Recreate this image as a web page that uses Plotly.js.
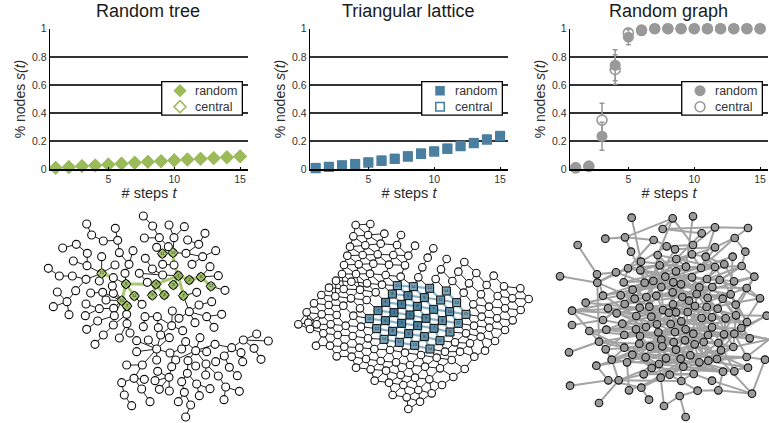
<!DOCTYPE html>
<html><head><meta charset="utf-8">
<script src="https://cdn.plot.ly/plotly-3.0.1.min.js"></script>
<style>html,body{margin:0;padding:0;background:#fff}#c{width:769px;height:423px}</style>
</head><body><div id="c"></div>
<script>
const steps=[1,2,3,4,5,6,7,8,9,10,11,12,13,14,15];
const treeRandom=[0.012,0.018,0.025,0.03,0.036,0.042,0.05,0.056,0.06,0.067,0.072,0.077,0.082,0.088,0.095];
const treeCentral=[0.01,0.015,0.022,0.027,0.033,0.04,0.046,0.052,0.057,0.063,0.069,0.074,0.079,0.085,0.091];
const latticeRandom=[0.012,0.02,0.03,0.04,0.052,0.065,0.078,0.095,0.115,0.13,0.15,0.17,0.19,0.215,0.24];
const latticeCentral=[0.008,0.016,0.026,0.036,0.047,0.06,0.073,0.09,0.11,0.125,0.145,0.165,0.185,0.21,0.235];
const graphRandom=[0.012,0.025,0.235,0.74,0.94,0.985,1,1,1,1,1,1,1,1,1];
const graphRandomErr=[0,0,0.1,0.11,0.055,0.01,0,0,0,0,0,0,0,0,0];
const graphCentral=[0.01,0.02,0.35,0.71,0.97,0.99,1,1,1,1,1,1,1,1,1];
const graphCentralErr=[0,0,0.12,0.105,0.05,0.01,0,0,0,0,0,0,0,0,0];
const yTicks=[0,0.2,0.4,0.6,0.8,1];
const yTickText=['0','0.2','0.4','0.6','0.8','1'];
const xTicks=[5,10,15];
const titles=['Random tree','Triangular lattice','Random graph'];
const seriesNames=['random','central'];

const treeBranches=[
[170,57,185,90,220,108,263,106,268,143,297,178,285,205,288,237],[256,70,263,106],[309,137,297,178],
[98,129,139,118,172,145,171,182,215,205],[130,168,171,182],[215,155,215,205],[255,180,215,205],[215,205,250,218,288,237],
[55,190,88,213,127,213,168,223,215,205],[208,228,215,205],[137,257,168,223],[82,261,111,290],[137,257,111,290],[70,305,111,290],[117,329,111,290],
[182,264,218,262,275,287],[250,265,275,287],[247,243,275,287],[228,285,275,287],[168,297,208,311,251,310,275,287],[166,332,208,311],[203,348,253,332,275,287],[170,373,203,348],
[275,287,291,303,290,328,291,356,300,384],[291,356,268,399],[290,328,250,360,220,390,195,418],[313,273,336,298],[313,273,288,237,275,287],
[288,237,378,238,445,212,478,225,513,216,543,244,585,256],[513,216,540,185],[513,216,565,212],[378,238,403,270],[378,238,367,271],[430,240,445,212],
[445,212,460,272,500,262],[445,212,432,180,429,143,397,146,380,127],[429,143,432,98,417,60],[432,98,463,65],[340,33,368,63,388,98,343,99],[388,98,415,125,397,146],
[429,143,468,145,506,118,525,85],[473,105,506,118],[468,145,518,155,557,137],[518,155,486,178],[445,212,398,210,367,192,346,160],[398,178,432,180],[398,210,328,205],[352,232,328,205],
[460,272,478,320,507,300,545,290],[478,320,530,335,575,328],[530,335,552,367],[478,320,495,353],[478,320,447,340,425,362,427,318],[425,362,382,335,385,368],[345,335,382,335],[340,365,345,335],[425,362,458,377],
[425,362,392,390,380,432],[418,398,380,432],[320,407,380,432],[355,405,380,432],[320,440,380,432],[380,432,337,480,290,480],[380,465,380,432],[380,432,420,444],
[337,480,312,520,275,533,283,570,305,602],[312,520,343,523],[312,520,335,552,360,590],
[420,444,437,465,497,437],[425,485,437,465],[455,432,420,444],[467,410,497,437],[510,398,497,437],[530,440,497,437],
[497,437,555,418,605,428,640,405,680,387],[640,405,715,408],[640,405,672,430,693,463],[605,428,633,443,638,470],[605,428,583,453,557,470],[583,453,598,487,622,512],
[497,437,474,467,497,483],[474,467,472,505,455,530,463,562,445,590],[463,562,482,600,467,636],[472,505,500,537,540,551],[500,537,508,572],
[497,437,528,477,565,513,587,546,628,559],[587,546,582,584],[528,477,527,510],
[417,517,425,485],[417,517,383,499],[417,517,375,527],[417,517,388,553],[417,517,418,558]];
const treeFocusPaths=[[215,205,250,218],[288,237,378,238,445,212,478,225,513,216,543,244],[378,238,403,270],[378,238,367,271],[445,212,430,240],[445,212,460,272],[288,237,275,287,291,303],[288,237,313,273],[429,143,397,146],[445,212,432,180,429,143]];
const treeFocusX=[215,288,275,291,313,378,367,403,430,445,478,513,543,460,429,397];
const treeFocusY=[205,237,287,303,273,238,271,270,240,212,225,216,244,272,143,146];
const treeFocusStep=[15,5,10,7,11,3,9,4,8,1,2,6,12,7,13,11];

const latticeRows=[
[197,60,241,57],
[190,94,234,90,283,86,333,90],
[180,125,226,121,272,116,321,120,375,122,430,130],
[172,152,218,150,263,148,310,150,355,152,413,158,470,162,523,171],
[162,180,206,178,250,176,297,179,345,181,397,187,453,193,505,200,559,204,611,212],
[156,207,198,207,240,206,287,210,332,215,385,217,437,222,487,228,537,235,590,240,642,244,691,250],
[138,227,184,230,231,235,276,239,322,242,370,245,419,250,469,258,521,263,573,268,623,273,667,280,716,282],
[117,248,161,252,210,254,257,262,307,267,354,272,403,278,452,285,500,293,550,298,597,305,645,310,692,315],
[94,270,136,274,183,280,230,285,287,292,335,298,382,304,431,313,479,320,528,328,575,335,621,340,668,346],
[72,295,116,300,160,302,210,310,264,317,312,323,360,330,408,340,457,347,505,355,552,362,598,368,645,375],
[50,322,95,328,140,330,190,332,238,341,286,347,335,355,383,362,432,370,480,381,528,385,572,395,615,408],
[25,358,55,353,80,358,122,358,167,362,213,365,260,371,308,379,356,386,403,395,450,407,495,412,540,415,585,437],
[60,372,100,385,143,390,188,393,234,400,282,403,328,412,374,421,420,432,465,440,510,440,553,455],
[78,422,120,422,163,425,208,428,253,432,300,435,345,443,393,450,440,458,485,465,524,492],
[140,454,185,455,228,462,272,468,318,472,360,480,405,485,450,490,490,516],
[198,488,242,493,288,497,332,510,375,518,418,523,456,540],
[254,527,297,533,340,540,385,555,425,565],
[308,570,350,577,390,590],
[355,612]];
const latticeFocusX=[322,370,419,469,307,354,403,452,500,287,335,382,431,479,528,264,312,360,408,457,505,238,286,335,383,432,480,260,308,356,403,450,282,328,374,420];
const latticeFocusY=[242,245,250,258,267,272,278,285,293,292,298,304,313,320,328,317,323,330,340,347,355,341,347,355,362,370,381,371,379,386,395,407,403,412,421,432];
const latticeFocusStep=[13,14,12,14,8,5,9,11,13,6,3,4,7,10,15,7,2,1,5,8,12,13,6,3,4,7,11,12,8,6,9,12,14,12,13,14];

const graphX=[275,398,459,368,525,624,485,196,255,341,584,113,459,380,405,525,273,616,353,456,578,497,409,303,605,553,525,483,438,359,264,301,228,171,408,60,643,376,456,501,539,582,172,251,314,340,400,423,364,478,517,620,278,189,242,284,319,349,398,427,470,503,548,572,660,137,447,254,587,204,299,328,399,465,500,533,96,230,369,387,408,443,588,680,289,334,485,516,557,189,621,96,247,351,392,424,199,148,288,318,437,516,604,504,355,405,460,552,583,253,300,629,688,177,491,364,435,298,401,464,535,330,367,253,580,408,543,197,87,277,317,451,378,422,215,620,531,505,478,675,261,357,430,335,169,624,549,583,461,311,389,362,205,236,424,516,267,304,473,535,90,636,419,327,372,177,437];
const graphY=[38,40,34,72,67,69,85,101,97,105,99,120,120,124,133,127,140,140,150,148,155,155,162,170,183,178,186,189,185,181,190,196,202,208,199,214,215,215,217,222,225,229,233,232,233,228,232,238,246,247,246,249,254,272,271,281,276,272,262,276,267,279,281,268,280,293,287,297,299,310,308,305,298,303,306,311,317,325,315,323,322,321,331,332,333,335,339,337,340,345,351,360,356,358,357,349,374,378,373,366,373,367,369,390,382,381,386,388,386,390,393,400,403,410,411,404,406,416,412,418,414,425,424,428,426,434,436,433,442,449,457,451,460,461,464,456,462,467,472,464,472,477,485,489,482,488,500,499,507,508,509,518,526,526,528,527,556,548,557,556,542,566,573,584,603,594,636];
const graphChains=[
[275,38,303,170,264,190,228,202,171,208,113,120],
[60,214,172,233,228,202,314,233,189,272,171,208],
[196,101,255,97,341,105,264,190,172,233,177,410,87,442],
[255,97,273,140,301,196,376,215,353,150,398,40,368,72,525,67,624,69,584,99,525,127,405,133,341,105],
[398,40,255,97],[398,40,459,120],
[459,34,438,185,483,189,584,99,616,140,605,183,643,215,582,229,553,178,497,155,525,67,459,120,380,124,303,170],
[368,72,485,85,409,162,359,181,264,190,251,232,319,276,254,297,189,345,96,317,299,308,137,293,242,271,349,272,400,232,478,247,620,249,660,280,604,369,680,332,583,386,688,403,620,456,675,464,636,566,535,556,473,557,419,573,437,636],
[419,573,372,603,362,518],[327,584,304,548,205,526,90,542],
[177,594,236,526,311,508,461,507,516,527,636,566],
[96,360,189,345,254,297,284,281,96,317,230,325,351,358,148,378,199,374,392,357],
[87,442,177,410,253,428,215,464,197,433,96,317],
[148,378,300,393,437,373,604,369,621,351,516,337,408,322,289,333,189,272],
[177,410,355,382,504,390,629,400,552,388,392,357,299,308,230,325],
[169,482,317,457,451,451,620,456,531,462,408,434,253,428,335,489,549,500,624,488,505,467,424,349,284,281,172,233],
[261,472,478,472,583,499,516,367,334,335,261,472],
[267,556,261,472,401,412,430,485,304,548],[267,556,389,509,473,557],
[215,464,430,485,535,414,643,215],
[456,148,314,233,470,267,353,150,340,228,572,268,578,155,278,254,525,186,242,271,369,315,500,306,588,331,680,332],
[409,162,427,276,501,222,301,196,398,262,605,183,447,287,376,215,539,225,660,280],
[169,482,205,526,424,528,580,426,688,403],
[236,526,357,477,543,436,583,386,443,321,204,310,318,366,553,178],
[311,508,378,460,464,418,288,373,247,356,465,303,620,249],
[236,526,215,464,364,404,491,411,636,566],
[197,433,367,424,516,367,557,340,399,298,199,374,435,406,624,488],
[261,472,330,425,460,386,533,311,408,199,340,228,328,305,485,339,572,268],
[177,410,298,416,422,461,580,426,503,279,364,246,423,238,587,299,604,369],
[189,272,400,232,548,281,629,400],[253,390,405,381,516,367,688,403],[535,556,549,500,430,485,362,518,335,489],
[242,271,456,217,582,229],[301,196,456,148,497,155],[251,232,438,185],[303,170,483,189,525,127],[353,150,525,186,621,351],
[230,325,387,323,605,183],[299,308,405,133],[319,276,409,162],[284,281,359,181,525,127],[447,287,605,183],
[349,272,470,267,643,215],[254,297,427,276,572,268],[334,335,465,303,588,331],[289,333,443,321,660,280],
[288,373,424,349,557,340],[247,356,392,357,621,351],[253,390,437,373,583,386],[300,393,460,386,629,400],
[298,416,491,411,580,426],[401,412,552,388],[253,428,401,412,535,414],[277,449,451,451,543,436],[277,449,408,434,531,462],
[317,457,478,472,620,456],[357,477,505,467,624,488],[378,460,549,500],[169,482,277,449,364,404],[330,425,355,382,485,339],
[215,464,330,425,504,390],[311,508,430,485,583,499],[389,509,461,507,531,462],[362,518,478,472],[304,548,451,451],[424,528,422,461,367,424],
[351,358,405,381,500,306],[369,315,392,357,435,406,478,472],[387,323,437,373,491,411],[408,322,460,386,531,462],[443,321,504,390,543,436],
[364,246,369,315,351,358,364,404,378,460],[400,232,399,298,405,381,401,412,422,461],[423,238,443,321,437,373,464,418,451,451],[478,247,465,303,460,386],
[349,272,328,305,334,335,318,366,300,393,298,416],[319,276,299,308,289,333,288,373,253,390],[398,262,408,322,392,357],[427,276,447,287,485,339,504,390],
[470,267,500,306,516,337,516,367,491,411,478,472],[503,279,533,311,557,340,552,388,535,414,531,462],[548,281,588,331,583,386,580,426],
[355,382,367,424,408,434,451,451],[330,425,378,460,430,485],[317,457,357,477,389,509],[408,434,478,472,549,500],[464,418,505,467],[298,416,364,404,435,406,535,414],
[288,373,351,358,424,349,516,337],[300,393,355,382,437,373,516,367],[334,335,392,357,460,386,552,388],[328,305,399,298,465,303,533,311],[299,308,369,315,443,321],
[319,276,398,262,470,267,548,281],[284,281,349,272,427,276,503,279],[278,254,364,246,478,247],[251,232,340,228,400,232,456,217,539,225],[314,233,408,199,483,189],
[264,190,376,215,423,238,517,246],[301,196,359,181,409,162,456,148],[359,181,438,185,525,186,605,183],[376,215,364,246,349,272],[456,217,470,267,447,287],[501,222,517,246,503,279],
[253,428,317,457,277,449],[197,433,253,390,247,356],[230,325,254,297,278,254],[204,310,289,333],[199,374,288,373],[189,345,247,356,334,335],[148,378,253,428],
[580,426,543,436,505,467],[620,456,583,386,535,414],[629,400,604,369,588,331],[621,351,587,299,572,268],[643,215,620,249,587,299],
[303,170,314,233,278,254,284,281,254,297,230,325],[359,181,340,228,319,276,328,305,369,315,387,323,392,357,351,358,318,366],[408,199,400,232,398,262,399,298,408,322,424,349,437,373,435,406,464,418],
[438,185,423,238,427,276,443,321,485,339,460,386,464,418,478,472],[483,189,456,217,478,247,503,279,500,306,485,339,504,390,491,411,505,467],[525,186,501,222,470,267,465,303,443,321,424,349,405,381],
[539,225,517,246,548,281,533,311,516,337,557,340,552,388,543,436,531,462],[582,229,572,268,587,299,588,331,583,386,552,388],
[299,308,334,335,351,358,355,382,364,404,367,424,378,460,357,477],[289,333,318,366,300,393,330,425,317,457,335,489,311,508],[288,373,298,416,330,425,367,424,408,434,422,461,430,485],
[405,381,392,357,369,315,349,272,364,246,376,215],[401,412,405,381,437,373,516,367,557,340,588,331],[408,434,401,412,364,404,300,393,253,390],[451,451,435,406,460,386,504,390,552,388],
[422,461,451,451,478,472,505,467,531,462,543,436],[378,460,422,461,464,418,491,411,535,414,580,426],[357,477,378,460,408,434,435,406],[335,489,357,477,362,518,389,509,430,485],
[251,232,278,254,319,276,349,272,398,262,423,238],[264,190,301,196,314,233,340,228,364,246],[409,162,438,185,408,199,376,215],[456,148,483,189,497,155,525,186],[409,162,359,181,353,150],
[437,373,408,322,399,298,447,287,465,303],[318,366,334,335,387,323,408,322,443,321],[351,358,387,323,398,262],[392,357,424,349,485,339],[405,381,435,406,401,412,355,382],[464,418,408,434,330,425],[364,404,401,412,451,451,531,462]];

const GREEN='#9BBB59',BLUE='#4A7FA0',GRAY='#999999',INK='#2b2b2b';
const xPanels=[[50,248],[310,508],[570,768]];
const netPanels=[[30,280,750],[290,540,750],[540,769,687]];

function chainsToXY(chains){const x=[],y=[];chains.forEach(c=>{for(let i=0;i<c.length;i+=2){x.push(c[i]);y.push(c[i+1]);}x.push(null);y.push(null);});return{x,y};}
function unique(chains){const m=new Map();chains.forEach(c=>{for(let i=0;i<c.length;i+=2)m.set(c[i]+','+c[i+1],[c[i],c[i+1]]);});return[...m.values()];}
const latticeNodes=unique(latticeRows);
const latticeEdges=[],latticeFocusEdges=[];
const isFocus=p=>latticeFocusX.some((v,i)=>v===p[0]&&latticeFocusY[i]===p[1]);
latticeNodes.forEach((a,i)=>latticeNodes.forEach((b,j)=>{if(j>i&&Math.hypot(a[0]-b[0],a[1]-b[1])<50){
  (isFocus(a)&&isFocus(b)?latticeFocusEdges:latticeEdges).push([a[0],a[1],b[0],b[1]]);}}));

const traces=[];
const ax=(k)=>({xaxis:'x'+(k||''),yaxis:'y'+(k||'')});
function panel(k,cen,ran,color,sym,size,cenErr,ranErr){
  const common={x:steps,mode:'markers',type:'scatter',showlegend:false,cliponaxis:false,...ax(k)};
  const err=e=>e?{type:'data',array:e,visible:true,color:color,thickness:1.5,width:2.5}:undefined;
  traces.push({...common,y:cen,name:seriesNames[1],error_y:err(cenErr),marker:{symbol:sym,size:size-1,color:'#fff',line:{color:color,width:1.6}}});
  traces.push({...common,y:ran,name:seriesNames[0],error_y:err(ranErr),marker:{symbol:sym,size:size,color:color,line:{width:0}}});
  traces.push({x:[10.44],y:[0.559],mode:'markers',type:'scatter',showlegend:false,hoverinfo:'skip',...ax(k),marker:{symbol:sym,size:size,color:color,line:{width:0}}});
  traces.push({x:[10.44],y:[0.445],mode:'markers',type:'scatter',showlegend:false,hoverinfo:'skip',...ax(k),marker:{symbol:sym,size:size-1,color:'#fff',line:{color:color,width:1.6}}});
}
panel('',treeCentral,treeRandom,GREEN,'diamond',10.2);
panel(2,latticeCentral,latticeRandom,BLUE,'square',9.5);
panel(3,graphCentral,graphRandom,GRAY,'circle',11,graphCentralErr,graphRandomErr);

function lines(k,chains,color,width){const p=chainsToXY(chains);traces.push({...p,mode:'lines',type:'scatter',showlegend:false,hoverinfo:'skip',cliponaxis:false,...ax(k),line:{color,width}});}
function nodes(k,x,y,sym,size,color,lineW){traces.push({x,y,mode:'markers',type:'scatter',showlegend:false,hoverinfo:'skip',cliponaxis:false,...ax(k),marker:{symbol:sym,size,color,line:{color:'#111',width:lineW}}});}
function focus(k,x,y,sym,size,stepsArr,lo,hi){traces.push({x,y,mode:'markers+text',text:stepsArr.map(String),textposition:'middle center',textfont:{size:4,color:'#222'},type:'scatter',showlegend:false,hoverinfo:'skip',cliponaxis:false,...ax(k),
  marker:{symbol:sym,size,color:stepsArr,cmin:1,cmax:15,colorscale:[[0,lo],[1,hi]],showscale:false,line:{color:'#111',width:1}}});}
lines(4,treeBranches,'#222',1);
lines(4,treeFocusPaths,'#A9C96F',3);
const tn=unique(treeBranches);
nodes(4,tn.map(p=>p[0]),tn.map(p=>p[1]),'circle',8,'#fff',1.1);
focus(4,treeFocusX,treeFocusY,'diamond',7.8,treeFocusStep,'#8FB354','#AECA78');
lines(5,latticeEdges,'#222',1);
lines(5,latticeFocusEdges,'#86B3CC',2.2);
nodes(5,latticeNodes.map(p=>p[0]),latticeNodes.map(p=>p[1]),'circle',7.6,'#fff',1.1);
focus(5,latticeFocusX,latticeFocusY,'square',8,latticeFocusStep,'#3E7796','#7DA9C0');
lines(6,graphChains,'#A3A3A3',2);
nodes(6,graphX,graphY,'circle',7.6,'#9A9A9A',1.1);

const layout={width:769,height:423,margin:{l:0,r:0,t:0,b:0},paper_bgcolor:'#fff',plot_bgcolor:'rgba(0,0,0,0)',showlegend:false,
  font:{family:'"Liberation Sans",Arial,sans-serif',color:INK},shapes:[],annotations:[]};
const Y0=1-169.3/423,Y1=1-28.7/423;
xPanels.forEach((p,i)=>{
  const s=i?String(i+1):'',xk='xaxis'+s,yk='yaxis'+s,xr='x'+s,yr='y'+s;
  layout[xk]={domain:[p[0]/769,p[1]/769],range:[0.57,15.6],anchor:yr,tickvals:xTicks,ticktext:xTicks.map(String),tickfont:{size:10.5,color:'#333'},ticks:'inside',ticklen:2.5,tickcolor:'#000',showgrid:false,zeroline:false,showline:true,linecolor:'#000',linewidth:1.3,
    title:{text:'# steps <i>t</i>',font:{size:14.5,color:INK},standoff:3}};
  layout[yk]={domain:[Y0,Y1],range:[0,1],anchor:xr,tickvals:yTicks,ticktext:yTickText,tickfont:{size:10.5,color:'#333'},ticks:'',showgrid:true,gridcolor:'#333',gridwidth:1.4,zeroline:false,showline:true,linecolor:'#000',linewidth:1.3,
    title:{text:'% nodes <i>s(t)</i>',font:{size:14,color:INK},standoff:3}};
  layout.annotations.push({xref:'paper',yref:'paper',x:(p[0]+98)/769,y:1-11/423,text:titles[i],showarrow:false,xanchor:'center',yanchor:'middle',font:{size:18,color:'#1a1a1a'}});
  layout.shapes.push({type:'rect',xref:xr,yref:yr,x0:9.05,x1:15.17,y0:0.386,y1:0.623,fillcolor:'#fff',line:{color:'#000',width:1.3},layer:'between'});
  layout.annotations.push({xref:xr,yref:yr,x:11.46,y:0.559,text:seriesNames[0],showarrow:false,xanchor:'left',yanchor:'middle',font:{size:12.5,color:'#333'}});
  layout.annotations.push({xref:xr,yref:yr,x:11.46,y:0.445,text:seriesNames[1],showarrow:false,xanchor:'left',yanchor:'middle',font:{size:12.5,color:'#333'}});
});
netPanels.forEach((p,i)=>{
  const s=String(i+4);
  layout['xaxis'+s]={domain:[p[0]/769,p[1]/769],range:[0,p[2]],anchor:'y'+s,visible:false,fixedrange:true};
  layout['yaxis'+s]={domain:[0,218/423],range:[654,0],anchor:'x'+s,visible:false,fixedrange:true};
});
Plotly.newPlot('c',traces,layout,{staticPlot:true,displayModeBar:false});
</script></body></html>
